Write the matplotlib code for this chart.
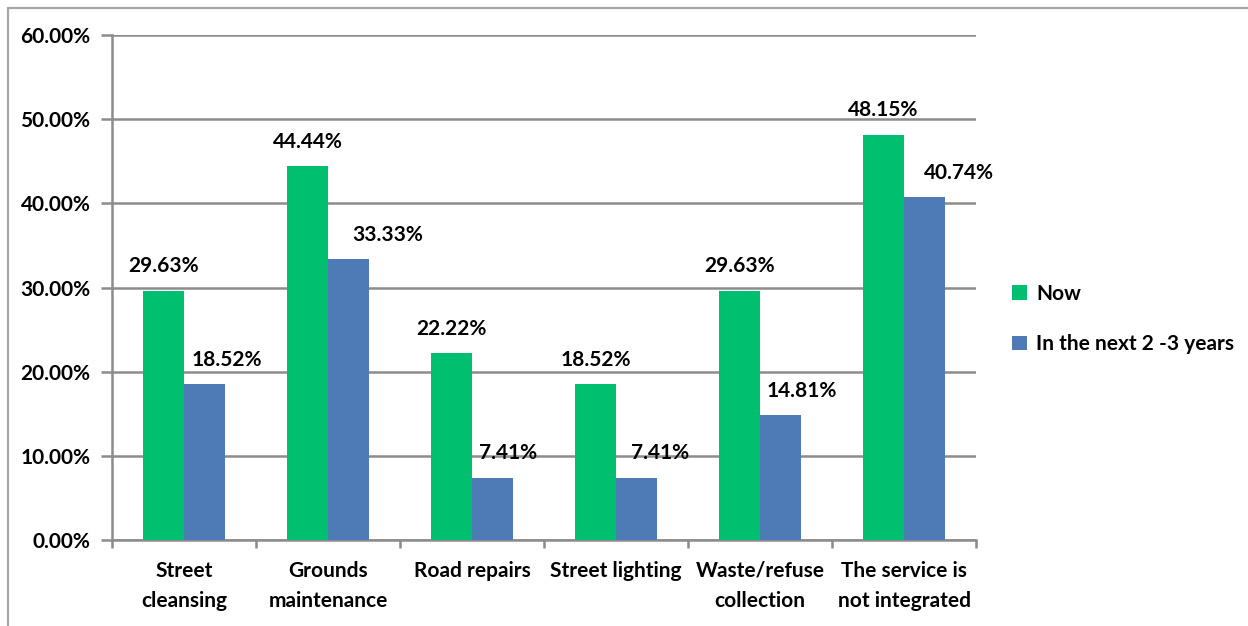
import matplotlib

matplotlib.use("Agg")
import matplotlib.pyplot as plt  # noqa: E402
import numpy as np  # noqa: E402
from matplotlib.patches import Rectangle  # noqa: E402
from matplotlib.ticker import FixedLocator, MultipleLocator, PercentFormatter  # noqa: E402

categories = [
    "Street\ncleansing",
    "Grounds\nmaintenance",
    "Road repairs",
    "Street lighting",
    "Waste/refuse\ncollection",
    "The service is\nnot integrated",
]
now = [29.63, 44.44, 22.22, 18.52, 29.63, 48.15]
next_years = [18.52, 33.33, 7.41, 7.41, 14.81, 40.74]
series_names = ["Now", "In the next 2 -3 years"]

GREEN = "#00BF6F"
BLUE = "#4E7AB5"
GRID = "#8C8C8C"
FONT = ["Lato", "DejaVu Sans"]
FS = 15

plt.rcParams["font.family"] = FONT
plt.rcParams["font.weight"] = "bold"

fig = plt.figure(figsize=(12.48, 6.26), dpi=100)
ax = fig.add_axes([112 / 1248, 1 - 540 / 626, (976 - 112) / 1248, (540 - 35) / 626])

# outer frame of the chart object
fig.patches.append(Rectangle((8 / 1248, -0.05), 1.1, 1 - 8 / 626 + 0.05,
                             transform=fig.transFigure, fill=False,
                             edgecolor="#A6A6A6", linewidth=1.6))

x = np.arange(len(categories))
w = 0.285
b1 = ax.bar(x - w / 2, now, w, color=GREEN, label=series_names[0], zorder=3)
b2 = ax.bar(x + w / 2, next_years, w, color=BLUE, label=series_names[1], zorder=3)

# value labels (blue ones were nudged right by hand in the original)
blue_dx = [16, 28, 11, 17, 15, 25]
for r, v in zip(b1, now):
    ax.annotate(f"{v:.2f}%", (r.get_x() + r.get_width() / 2, v),
                xytext=(0, 17.5), textcoords="offset points",
                ha="center", va="center", fontsize=FS, fontweight="bold")
for r, v, dx in zip(b2, next_years, blue_dx):
    ax.annotate(f"{v:.2f}%", (r.get_x() + r.get_width() / 2, v),
                xytext=(dx, 17.5), textcoords="offset points",
                ha="center", va="center", fontsize=FS, fontweight="bold")

ax.set_xlim(-0.5, len(categories) - 0.5)
ax.set_ylim(0, 60)
ax.yaxis.set_major_locator(MultipleLocator(10))
ax.yaxis.set_major_formatter(PercentFormatter(decimals=2))
ax.grid(axis="y", color=GRID, linewidth=1.8, zorder=0)

ax.set_xticks(x)
ax.set_xticklabels(categories, fontsize=FS, fontweight="bold", linespacing=1.65)
ax.tick_params(axis="x", which="major", length=0, pad=15)
ax.xaxis.set_minor_locator(FixedLocator(np.arange(-0.5, len(categories), 1.0)))
ax.tick_params(axis="x", which="minor", length=6, width=1.8, color=GRID)
ax.tick_params(axis="y", length=8, width=1.8, color=GRID, labelsize=FS, pad=7.5)

for s in ["top", "right"]:
    ax.spines[s].set_visible(False)
for s in ["left", "bottom"]:
    ax.spines[s].set_color(GRID)
    ax.spines[s].set_linewidth(1.8)

ax.legend(loc="center left", bbox_to_anchor=(1.02, 0.4376), frameon=False,
          handlelength=0.7, handleheight=0.7,
          handletextpad=0.45, labelspacing=1.45,
          prop={"weight": "bold", "size": FS, "family": FONT})

fig.savefig("out.png", dpi=100)
